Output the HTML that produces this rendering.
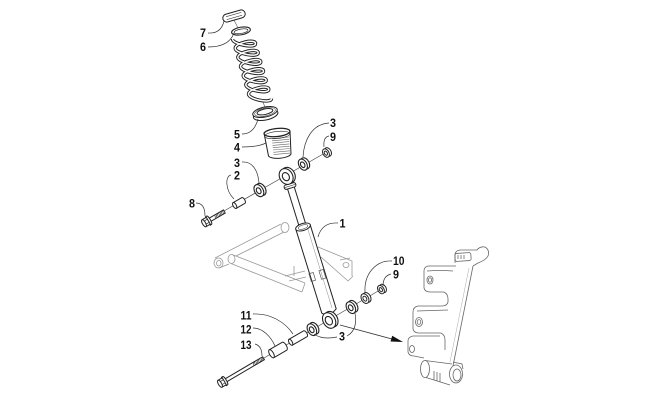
<!DOCTYPE html>
<html><head><meta charset="utf-8">
<style>
html,body{margin:0;padding:0;background:#fff;}
svg{display:block;}
text{font-family:"Liberation Sans",sans-serif;font-weight:bold;font-size:11.5px;fill:#111;}
</style></head><body>
<svg width="650" height="406" viewBox="0 0 650 406" xmlns="http://www.w3.org/2000/svg">
<rect width="650" height="406" fill="#fff"/>

<!-- A-arm (background, light) -->
<g fill="none" stroke="#999" stroke-width="0.8">
  <path d="M215,258 L281,224"/>
  <path d="M236,256 L286,231"/>
  <ellipse cx="285" cy="227.5" rx="4" ry="5" fill="#fff"/>
  <ellipse cx="218.5" cy="263" rx="4.5" ry="5" fill="#fff"/>
  <ellipse cx="218.8" cy="263.2" rx="2.2" ry="2.8"/>
  <path d="M219,268 L229,264"/>
  <path d="M232,254.5 L305,283"/>
  <path d="M231,263.5 L302,292"/>
  <ellipse cx="231.5" cy="259" rx="3.5" ry="4.5" fill="#fff"/>
  <path d="M305,283 L302,292"/>
  <path d="M285,276 L305,271 M289,281 L306,277 M294,266 L294,276"/>
  <path d="M318,247 L352,261 L352,276 M321,257 L348,281 L353,276"/>
  <ellipse cx="346" cy="265" rx="3" ry="2.5"/>
  <path d="M340,260 L350,258"/>
</g>

<!-- top axis line -->
<path d="M224,211 L324,153.5" stroke="#444" stroke-width="0.7" fill="none"/>
<!-- bottom axis line -->
<path d="M264,358 L379,290.5" stroke="#444" stroke-width="0.7" fill="none"/>
<!-- arrow -->
<path d="M340,325 L393,339.3" stroke="#333" stroke-width="0.8" fill="none"/>
<path d="M403,342 L390.5,341.5 L392.2,335.8 Z" fill="#111"/>

<!-- short axis bits in spring stack -->
<path d="M234,20 L238,28 M262,100 L265,107" stroke="#555" stroke-width="0.6" fill="none"/>

<!-- Retainer 7 -->
<g transform="translate(234,16) rotate(-16)" fill="#fff" stroke="#222" stroke-width="1">
  <rect x="-11.5" y="-4" width="23" height="8" rx="4"/>
  <path d="M-8,-1.5 L8,-1.5 M-8,1.5 L8,1.5" stroke-width="0.6"/>
</g>
<!-- Ring 6 -->
<g transform="translate(241,31) rotate(-10)" fill="none" stroke="#222">
  <ellipse cx="0" cy="0" rx="9.5" ry="3.8" stroke-width="1.1"/>
  <ellipse cx="0" cy="0.3" rx="7" ry="2.2" stroke-width="0.7"/>
</g>

<!-- Spring -->
<g fill="none">
<path id="sp" d="M232.5,39 C232.5,44.3 255.5,48.9 255.5,43.6 C255.5,38.3 235.2,42.9 235.2,48.2 C235.2,53.5 258.2,58.1 258.2,52.8 C258.2,47.5 237.8,52 237.8,57.3 C237.8,62.6 260.8,67.2 260.8,61.9 C260.8,56.6 240.5,61.2 240.5,66.5 C240.5,71.8 263.5,76.4 263.5,71.1 C263.5,65.8 243.2,70.4 243.2,75.7 C243.2,81 266.2,85.6 266.2,80.3 C266.2,75 245.8,79.5 245.8,84.8 C245.8,90.1 268.8,94.7 268.8,89.4 C268.8,84.1 248.5,88.7 248.5,94 C248.5,99.3 271.5,103.9 271.5,98.6" stroke="#222" stroke-width="3.4"/>
<path d="M232.5,39 C232.5,44.3 255.5,48.9 255.5,43.6 C255.5,38.3 235.2,42.9 235.2,48.2 C235.2,53.5 258.2,58.1 258.2,52.8 C258.2,47.5 237.8,52 237.8,57.3 C237.8,62.6 260.8,67.2 260.8,61.9 C260.8,56.6 240.5,61.2 240.5,66.5 C240.5,71.8 263.5,76.4 263.5,71.1 C263.5,65.8 243.2,70.4 243.2,75.7 C243.2,81 266.2,85.6 266.2,80.3 C266.2,75 245.8,79.5 245.8,84.8 C245.8,90.1 268.8,94.7 268.8,89.4 C268.8,84.1 248.5,88.7 248.5,94 C248.5,99.3 271.5,103.9 271.5,98.6" stroke="#fff" stroke-width="1.5"/>
</g>

<!-- Spring seat 5 -->
<g transform="translate(265,112) rotate(-12)" fill="#fff" stroke="#222" stroke-width="1">
  <ellipse cx="0" cy="3" rx="12.5" ry="5"/>
  <ellipse cx="0" cy="0" rx="12.5" ry="5"/>
  <ellipse cx="0" cy="-0.3" rx="8" ry="2.8"/>
  <ellipse cx="0" cy="0" rx="10.5" ry="4" fill="none" stroke-width="0.5"/>
</g>

<!-- Bump stop 4 -->
<g stroke="#222" stroke-width="1" fill="#fff">
  <path d="M264,133 L268.5,156 A11.5,4 -5 0 0 291,154 L290,131 Z"/>
  <g stroke="#666" stroke-width="0.6" fill="none">
    <path d="M272,138.5 L289,137"/><path d="M272,140.8 L289,139.3"/><path d="M272.3,143.1 L289.2,141.6"/>
    <path d="M272.5,145.4 L289.4,143.9"/><path d="M272.8,147.7 L289.6,146.2"/><path d="M273,150 L289.8,148.5"/>
    <path d="M273.3,152.3 L290,150.8"/><path d="M273.6,154.6 L290.2,153.1"/>
  </g>
  <ellipse cx="277" cy="132.5" rx="13" ry="4" transform="rotate(-6 277 132.5)" stroke-width="1.3"/>
  <ellipse cx="277.2" cy="135" rx="12.6" ry="3.6" transform="rotate(-6 277 135)" fill="none" stroke-width="0.6"/>
</g>

<!-- Shock shaft -->
<path d="M286.65,186 L299.65,228 L306.35,226 L293.35,184 Z" fill="#fff" stroke="#222" stroke-width="1"/>
<!-- Shock body -->
<path d="M295.8,229.2 L321.8,313.2 Q329,318 336.2,308.8 L310.2,224.8 Z" fill="#fff" stroke="#222" stroke-width="1"/>
<path d="M307.5,228 L332,308" stroke="#888" stroke-width="0.5" fill="none"/>
<ellipse cx="303" cy="227" rx="7.6" ry="3.5" transform="rotate(-17 303 227)" fill="#fff" stroke="#222" stroke-width="1"/>
<ellipse cx="303" cy="227" rx="5" ry="2" transform="rotate(-17 303 227)" fill="none" stroke="#444" stroke-width="0.6"/>
<rect x="310" y="273" width="4.5" height="8" transform="rotate(-17 312 277)" fill="none" stroke="#555" stroke-width="0.7"/>
<rect x="320" y="270" width="4.5" height="9" transform="rotate(-17 322 274)" fill="none" stroke="#555" stroke-width="0.7"/>

<!-- Collar under top eye -->
<g transform="translate(290,186) rotate(-17)" fill="#fff" stroke="#222" stroke-width="1">
  <rect x="-6" y="-2.2" width="12" height="4.4" rx="2"/>
  <path d="M-5.5,0 L5.5,0" stroke-width="0.6"/>
</g>
<!-- Top eye -->
<g transform="translate(287,176) rotate(-30)" fill="#fff" stroke="#222" stroke-width="1.1">
  <ellipse cx="1.5" cy="0" rx="6.5" ry="8.3"/>
  <ellipse cx="-1" cy="0" rx="6.5" ry="8.3"/>
  <ellipse cx="-1.3" cy="0" rx="3.3" ry="4.3"/>
</g>

<!-- Bolt 8 -->
<g transform="translate(207,221.5) rotate(-30)" fill="#fff" stroke="#222" stroke-width="1">
  <rect x="3" y="-1.8" width="17" height="3.6"/>
  <path d="M10,-1.8 L9,1.8 M11.5,-1.8 L10.5,1.8 M13,-1.8 L12,1.8 M14.5,-1.8 L13.5,1.8 M16,-1.8 L15,1.8 M17.5,-1.8 L16.5,1.8 M19,-1.8 L18,1.8" stroke-width="0.6"/>
  <path d="M1,-4.8 L2.5,-4.8 A1.3,4.8 0 0 1 2.5,4.8 L1,4.8 Z"/>
  <path d="M-3.5,-4 L1.5,-4 L1.5,4 L-3.5,4 Z"/>
  <path d="M-3.5,-1.8 L1.5,-1.8 M-3.5,1.8 L1.5,1.8" stroke-width="0.6"/>
  <ellipse cx="-3.5" cy="0" rx="1.6" ry="4"/>
</g>
<!-- Spacer 2 -->
<g transform="translate(239,203) rotate(-30)" fill="#fff" stroke="#222" stroke-width="1">
  <path d="M-5,-3.3 L5,-3.3 A1.6,3.3 0 0 1 5,3.3 L-5,3.3 Z"/>
  <ellipse cx="-5" cy="0" rx="1.6" ry="3.3"/>
</g>
<!-- Washer 3 (left top) -->
<g transform="translate(260,190) rotate(-30)" fill="#fff" stroke="#222" stroke-width="1.1">
  <ellipse cx="1.3" cy="0" rx="4.3" ry="6.5"/>
  <ellipse cx="-1.3" cy="0" rx="4.3" ry="6.5"/>
  <ellipse cx="-1.5" cy="0" rx="2.1" ry="3.2"/>
</g>
<!-- Washer 3 (right top) -->
<g transform="translate(304,164) rotate(-30)" fill="#fff" stroke="#222" stroke-width="1.1">
  <ellipse cx="1.3" cy="0" rx="4" ry="6"/>
  <ellipse cx="-1.3" cy="0" rx="4" ry="6"/>
  <ellipse cx="-1.5" cy="0" rx="2" ry="3"/>
</g>
<!-- Nut 9 (top) -->
<g transform="translate(327,152.5) rotate(-30)" fill="#fff" stroke="#222" stroke-width="1">
  <ellipse cx="1.2" cy="0" rx="3" ry="4.6"/>
  <ellipse cx="-1.2" cy="0" rx="3" ry="4.6"/>
  <ellipse cx="-1.3" cy="0" rx="1.4" ry="2.2"/>
</g>

<!-- Bottom eye -->
<g transform="translate(330,320) rotate(-30)" fill="#fff" stroke="#222" stroke-width="1.1">
  <ellipse cx="1.6" cy="0" rx="6" ry="8.3"/>
  <ellipse cx="-1" cy="0" rx="6" ry="8.3"/>
  <ellipse cx="-1.3" cy="0" rx="3.3" ry="4.5"/>
</g>

<!-- Bolt 13 -->
<g transform="translate(223,382) rotate(-30.4)" fill="#fff" stroke="#222" stroke-width="1">
  <rect x="3" y="-1.7" width="44" height="3.4"/>
  <path d="M36,-1.7 L35,1.7 M37.5,-1.7 L36.5,1.7 M39,-1.7 L38,1.7 M40.5,-1.7 L39.5,1.7 M42,-1.7 L41,1.7 M43.5,-1.7 L42.5,1.7 M45,-1.7 L44,1.7 M46.5,-1.7 L45.5,1.7" stroke-width="0.6"/>
  <path d="M1,-4.8 L2.5,-4.8 A1.3,4.8 0 0 1 2.5,4.8 L1,4.8 Z"/>
  <path d="M-3.5,-4 L1.5,-4 L1.5,4 L-3.5,4 Z"/>
  <path d="M-3.5,-1.8 L1.5,-1.8 M-3.5,1.8 L1.5,1.8" stroke-width="0.6"/>
  <ellipse cx="-3.5" cy="0" rx="1.6" ry="4"/>
</g>
<!-- Spacer 12 -->
<g transform="translate(278,350) rotate(-30)" fill="#fff" stroke="#222" stroke-width="1">
  <path d="M-7.5,-4.6 L7.5,-4.6 A2,4.6 0 0 1 7.5,4.6 L-7.5,4.6 Z"/>
  <ellipse cx="-7.5" cy="0" rx="2" ry="4.6"/>
</g>
<!-- Spacer 11 -->
<g transform="translate(298,338) rotate(-30)" fill="#fff" stroke="#222" stroke-width="1">
  <path d="M-8.5,-3.4 L8.5,-3.4 A1.6,3.4 0 0 1 8.5,3.4 L-8.5,3.4 Z"/>
  <ellipse cx="-8.5" cy="0" rx="1.6" ry="3.4"/>
</g>
<!-- Washer 3 (bottom left) -->
<g transform="translate(313,329) rotate(-30)" fill="#fff" stroke="#222" stroke-width="1.1">
  <ellipse cx="1.3" cy="0" rx="4.2" ry="6.3"/>
  <ellipse cx="-1.3" cy="0" rx="4.2" ry="6.3"/>
  <ellipse cx="-1.5" cy="0" rx="2.1" ry="3.1"/>
</g>
<!-- Washer 3 (bottom right) -->
<g transform="translate(352,307) rotate(-30)" fill="#fff" stroke="#222" stroke-width="1.1">
  <ellipse cx="1.3" cy="0" rx="4.2" ry="6.3"/>
  <ellipse cx="-1.3" cy="0" rx="4.2" ry="6.3"/>
  <ellipse cx="-1.5" cy="0" rx="2.1" ry="3.1"/>
</g>
<!-- Washer 10 -->
<g transform="translate(366,298) rotate(-30)" fill="#fff" stroke="#222" stroke-width="1">
  <ellipse cx="1.2" cy="0" rx="3.5" ry="5.2"/>
  <ellipse cx="-1.2" cy="0" rx="3.5" ry="5.2"/>
  <ellipse cx="-1.3" cy="0" rx="1.7" ry="2.6"/>
</g>
<!-- Nut 9 (bottom) -->
<g transform="translate(382,289) rotate(-30)" fill="#fff" stroke="#222" stroke-width="1">
  <ellipse cx="1.2" cy="0" rx="3" ry="4.5"/>
  <ellipse cx="-1.2" cy="0" rx="3" ry="4.5"/>
  <ellipse cx="-1.3" cy="0" rx="1.4" ry="2.2"/>
</g>

<!-- Knuckle -->
<g fill="none" stroke="#666" stroke-width="0.8">
  <path d="M455,263 L455,254 Q456,250 461,250 L477,250 Q480,246 485,247 Q490,250 488,256 Q486,260 478,263 L473,266"/>
  <rect x="455" y="253" width="16" height="8" rx="2" transform="rotate(-4 463 257)"/>
  <path d="M458,255 L458,259 M461,255 L461,259 M464,255 L464,259"/>
  <path d="M473,266 L453,366"/>
  <path d="M469,268 L450,362" stroke="#aaa" stroke-width="0.5"/>
  <!-- arm 1 -->
  <path d="M456,266 L428,266 Q424,267 424,271 L424,288 Q425,292 430,292 L444,292 Q448,294 448,299 L448,302 Q447,306 442,306"/>
  <path d="M427,271 Q440,270 453,271"/>
  <ellipse cx="430" cy="280" rx="3" ry="4"/><ellipse cx="430" cy="280" rx="1.6" ry="2.2"/>
  <!-- arm 2 -->
  <path d="M442,306 L418,306 Q413,307 413,312 L413,329 Q414,333 419,333 L441,333"/>
  <path d="M417,311 L448,310"/>
  <ellipse cx="419" cy="322" rx="3.5" ry="4.5"/><ellipse cx="419" cy="322" rx="1.8" ry="2.4"/>
  <!-- arm 3 -->
  <path d="M441,333 Q445,335 445,340 L445,350 M440,336 L413,336 Q408,337 408,341 L408,352 Q409,356 414,356 L424,358"/>
  <ellipse cx="412" cy="349" rx="2.5" ry="3.5"/>
  <!-- hub -->
  <ellipse cx="425" cy="369" rx="4.5" ry="8.5"/>
  <path d="M425,360.5 L452,364 M426,377.5 L450,385"/>
  <path d="M453,362 L462,364 L463,369"/>
  <ellipse cx="456" cy="374" rx="6.5" ry="9"/>
  <ellipse cx="457" cy="375" rx="4" ry="6"/>
  <path d="M434,371 L434,380 M437,372 L437,381 M440,373 L440,382"/>
</g>

<!-- Leader lines -->
<g fill="none" stroke="#333" stroke-width="0.7">
  <path d="M208,33 Q221,34 224,21"/>
  <path d="M208,47 Q229,47 234,33"/>
  <path d="M242,134 Q254,134 258,119"/>
  <path d="M242,147 Q258,147 266,143"/>
  <path d="M242,162 C252,161 258,170 259,183"/>
  <path d="M231,175 C225,176 225,190 234,199"/>
  <path d="M196,203 Q205,203 205,216"/>
  <path d="M329,123 C312,124 304,140 303,157"/>
  <path d="M329,136 Q323,137 324,147"/>
  <path d="M338,223 Q322,222 318,237"/>
  <path d="M253,314 C270,313 285,322 293,334"/>
  <path d="M253,328 C263,328 271,337 275,346"/>
  <path d="M255,344 Q262,346 262,356"/>
  <path d="M314,334 Q322,340 337,337"/>
  <path d="M355,313 Q358,330 347,336"/>
  <path d="M392,261 C375,260 364,275 365,292"/>
  <path d="M391,274 Q383,276 383,286"/>
</g>

<!-- Labels -->
<text x="200" y="37" textLength="6" lengthAdjust="spacingAndGlyphs">7</text>
<text x="200" y="51" textLength="6" lengthAdjust="spacingAndGlyphs">6</text>
<text x="234" y="138.5" textLength="6" lengthAdjust="spacingAndGlyphs">5</text>
<text x="234" y="151.5" textLength="6" lengthAdjust="spacingAndGlyphs">4</text>
<text x="234" y="167" textLength="6" lengthAdjust="spacingAndGlyphs">3</text>
<text x="234" y="179.5" textLength="6" lengthAdjust="spacingAndGlyphs">2</text>
<text x="189" y="207.5" textLength="6" lengthAdjust="spacingAndGlyphs">8</text>
<text x="330" y="127" textLength="6" lengthAdjust="spacingAndGlyphs">3</text>
<text x="330" y="141" textLength="6" lengthAdjust="spacingAndGlyphs">9</text>
<text x="339.5" y="227.5" textLength="6" lengthAdjust="spacingAndGlyphs">1</text>
<text x="240.5" y="319.5" textLength="11" lengthAdjust="spacingAndGlyphs">11</text>
<text x="240.5" y="333.5" textLength="11" lengthAdjust="spacingAndGlyphs">12</text>
<text x="240.5" y="349" textLength="11" lengthAdjust="spacingAndGlyphs">13</text>
<text x="339" y="340.5" textLength="6" lengthAdjust="spacingAndGlyphs">3</text>
<text x="393" y="265" textLength="11.5" lengthAdjust="spacingAndGlyphs">10</text>
<text x="393" y="278.5" textLength="6" lengthAdjust="spacingAndGlyphs">9</text>
</svg>
</body></html>
